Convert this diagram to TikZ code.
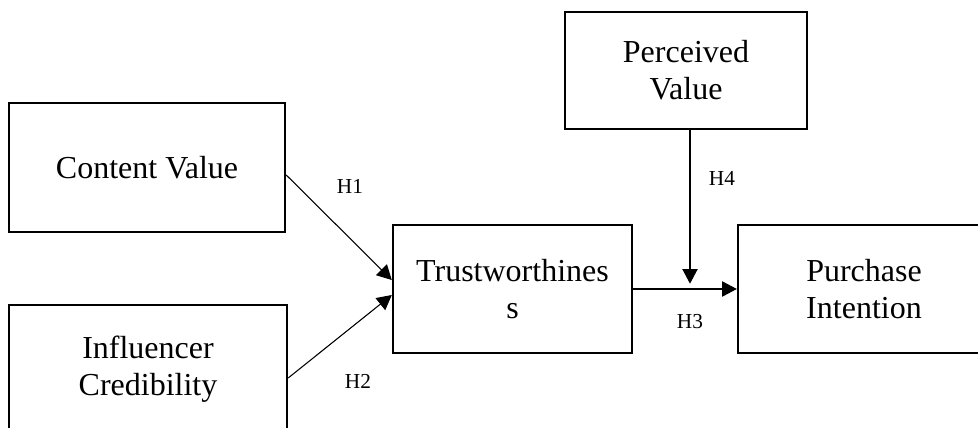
\documentclass[tikz,border=0pt]{standalone}
\usepackage{fontspec}
\setmainfont{Liberation Serif}
\usetikzlibrary{arrows.meta}

\begin{document}
\begin{tikzpicture}[x=0.75pt, y=-0.75pt,
    box/.style={draw, line width=1.8pt, align=center, inner sep=0pt,
        font=\fontsize{24}{27.6}\selectfont},
    link/.style={line width=0.8pt, -{Triangle[length=11pt, width=11.5pt]}},
    hyp/.style={inner sep=0pt, font=\fontsize{16}{19}\selectfont}]
    \useasboundingbox (0, 0) rectangle (978, 428);

    % input constructs
    \node[box, minimum width=207pt, minimum height=96.75pt] (content) at (147, 167.5) {Content Value};
    \node[box, minimum width=208.5pt, minimum height=96pt] (influencer) at (148, 369) {Influencer\\Credibility};

    % mediator, moderator, outcome
    \node[box, minimum width=179.25pt, minimum height=96pt] (trust) at (512.5, 289) {Trustworthines\\s};
    \node[box, minimum width=181.5pt, minimum height=87.75pt] (perceived) at (686, 70.5) {Perceived\\Value};
    \node[box, minimum width=189pt, minimum height=96pt] (purchase) at (864, 289) {Purchase\\Intention};

    % H1, H2 paths into trustworthiness
    \draw[link] ([yshift=-5.6pt]content.east) -- ([yshift=6.75pt]trust.west);
    \draw[link] ([yshift=-6.75pt]influencer.east) -- ([yshift=-4.5pt]trust.west);

    % H3 path and H4 moderation
    \draw[link] (trust.east) -- (purchase.west);
    \coordinate (mod) at (690, 289);
    \draw[link] (perceived.south -| mod) -- ([yshift=4pt]mod);

    % hypothesis labels
    \node[hyp] (h1) at (350, 186) {H1};
    \node[hyp] (h2) at (358, 381) {H2};
    \node[hyp] (h3) at (690, 322) {H3};
    \node[hyp] (h4) at (722, 178) {H4};
\end{tikzpicture}
\end{document}
